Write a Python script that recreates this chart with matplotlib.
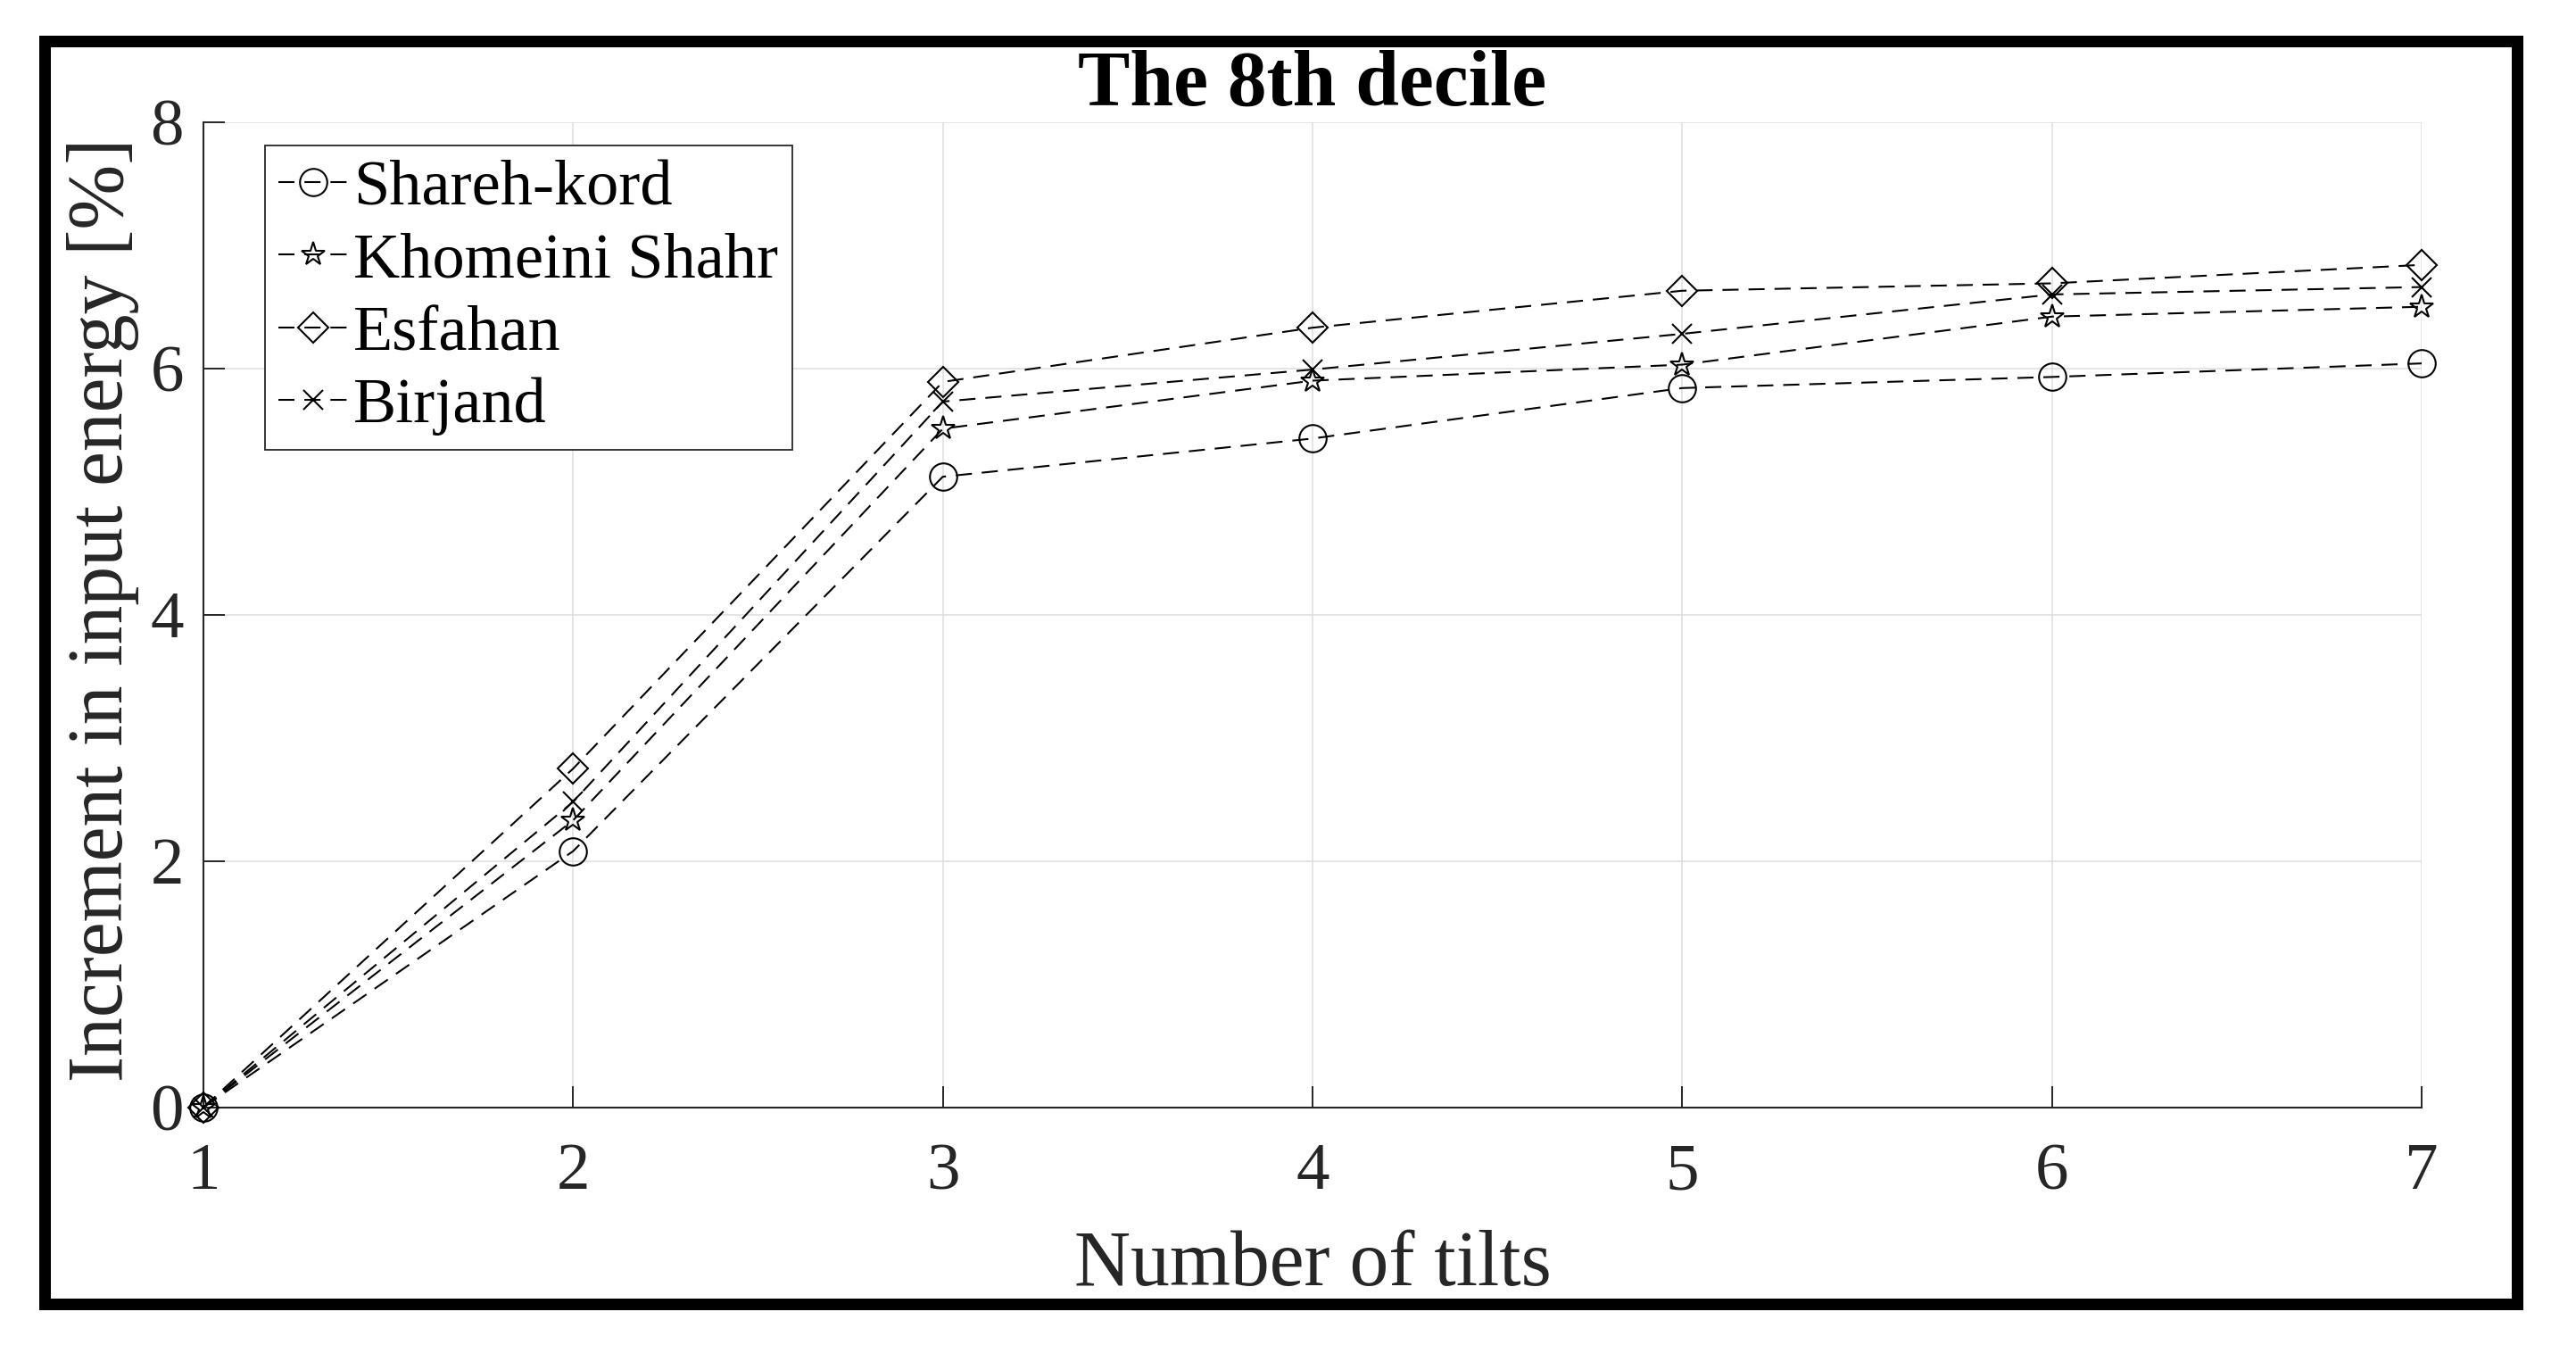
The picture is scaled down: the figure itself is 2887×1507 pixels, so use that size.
import matplotlib
matplotlib.use("Agg")
import matplotlib.pyplot as plt
from matplotlib.patches import Rectangle

# ---- data ----
tilts = [1, 2, 3, 4, 5, 6, 7]
shareh_kord = [0.0, 2.08, 5.12, 5.43, 5.84, 5.93, 6.04]
khomeini_shahr = [0.0, 2.33, 5.51, 5.90, 6.03, 6.42, 6.50]
esfahan = [0.0, 2.75, 5.89, 6.33, 6.63, 6.69, 6.84]
birjand = [0.0, 2.48, 5.73, 5.99, 6.28, 6.60, 6.66]
series_names = ["Shareh-kord", "Khomeini Shahr", "Esfahan", "Birjand"]
xticks = [1, 2, 3, 4, 5, 6, 7]
yticks = [0, 2, 4, 6, 8]

plt.rcParams['font.family'] = ['Liberation Serif', 'DejaVu Serif']
plt.rcParams['lines.scale_dashes'] = False

W, H, DPI = 2887, 1507, 100
fig = plt.figure(figsize=(W / DPI, H / DPI), dpi=DPI)
fig.patch.set_facecolor('white')

ax_left, ax_right, ax_top, ax_bottom = 228, 2714, 136.7, 1240.7
ax = fig.add_axes([ax_left / W, (H - ax_bottom) / H,
                   (ax_right - ax_left) / W, (ax_bottom - ax_top) / H])

dark = '#262626'
styles = [
    dict(marker='o', ms=22),
    dict(marker='*', ms=20),
    dict(marker='D', ms=17),
    dict(marker='x', ms=16),
]
data = [shareh_kord, khomeini_shahr, esfahan, birjand]
for name, vals, st in zip(series_names, data, styles):
    ax.plot(tilts, vals, color='black', lw=1.5, dashes=(13, 8),
            marker=st['marker'], ms=st['ms'], mfc='none', mec='black',
            mew=1.5, label=name, clip_on=False, zorder=3)

ax.set_xlim(1, 7)
ax.set_ylim(0, 8)
ax.set_xticks(xticks)
ax.set_yticks(yticks)
ax.grid(True, color='#dedede', lw=1.1, zorder=0)
ax.set_axisbelow(True)

for s in ['top', 'right']:
    ax.spines[s].set_visible(False)
for s in ['left', 'bottom']:
    ax.spines[s].set_color(dark)
    ax.spines[s].set_linewidth(1.5)

ax.tick_params(axis='both', direction='in', length=17, width=1.4,
               color=dark, labelsize=54, labelcolor=dark)
ax.tick_params(axis='x', pad=29)
ax.tick_params(axis='y', pad=16)

ax.set_title("The 8th decile", fontsize=63, fontweight='bold', pad=7)
ax.set_xlabel("Number of tilts", fontsize=63, color=dark, va='baseline')
ax.xaxis.set_label_coords(0.5, (ax_bottom - 1440) / (ax_bottom - ax_top))
ax.set_ylabel("Increment in input energy [%]", fontsize=63, color=dark, va='center')
ax.yaxis.set_label_coords((116 - ax_left) / (ax_right - ax_left), 0.505)

leg = ax.legend(loc='upper left',
                bbox_to_anchor=((296.6 - ax_left) / (ax_right - ax_left),
                                (ax_bottom - 162.7) / (ax_bottom - ax_top)),
                borderaxespad=0, fontsize=52, handlelength=1.08,
                handletextpad=0.08, borderpad=0.22, labelspacing=0.22,
                fancybox=False, framealpha=1, edgecolor=dark, numpoints=1)
leg.get_frame().set_linewidth(1.3)
for t in leg.get_texts():
    t.set_color('black')

# outer thick frame
x0, x1 = 49.5, 2820.5
y0, y1 = 45.5, 1461.0
fig.add_artist(Rectangle((x0 / W, (H - y1) / H), (x1 - x0) / W, (y1 - y0) / H,
                         transform=fig.transFigure, fill=False,
                         edgecolor='black', lw=13 * 72 / DPI, joinstyle='miter'))

fig.savefig("out.png", dpi=DPI, facecolor='white')
